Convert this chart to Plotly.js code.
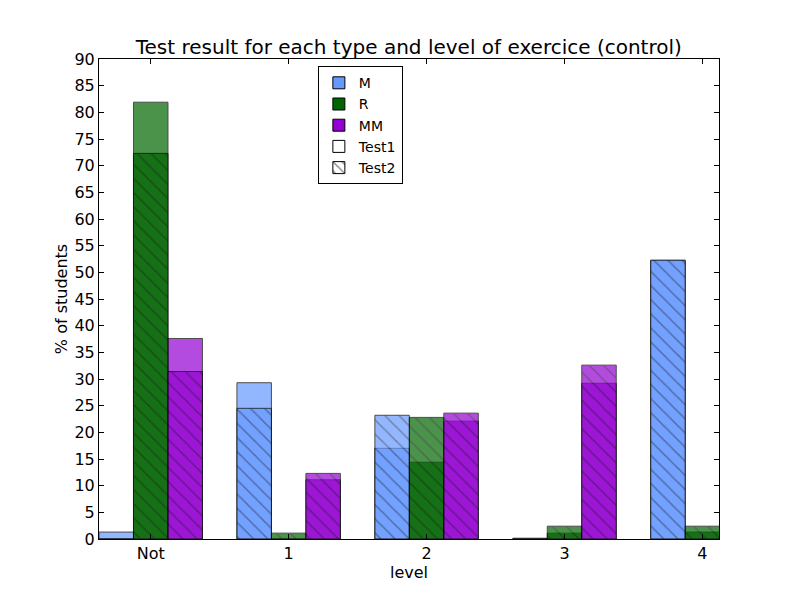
<!DOCTYPE html>
<html>
<head>
<meta charset="utf-8">
<script src="https://cdn.plot.ly/plotly-3.0.1.min.js"></script>
<style>
  body { margin: 0; background: #fff; }
  #plot { width: 800px; height: 600px; }
</style>
</head>
<body>
<div id="plot"></div>
<script>
// levels on the x axis
var levels = ["Not", "1", "2", "3", "4"];
var xpos = [0, 1, 2, 3, 4];

// % of students, Test1 (plain) and Test2 (hatched)
var mTest1  = [1.3, 29.3, 17.0, 0.15, 52.2];
var mTest2  = [0, 24.5, 23.2, 0, 52.3];
var rTest1  = [81.9, 0, 14.4, 1.1, 1.3];
var rTest2  = [72.3, 1.1, 22.8, 2.4, 2.4];
var mmTest1 = [37.6, 11.1, 22.1, 29.2, 0];
var mmTest2 = [31.4, 12.3, 23.6, 32.6, 0];

var colM = "#6699ff";
var colR = "#006400";
var colMM = "#9400d3";
var barW = 0.25;

function bar(y, color, offset, hatched) {
  var marker = {color: color, line: {color: "#000", width: 1}};
  if (hatched) {
    marker.pattern = {shape: "\\", fgcolor: "#000", size: 10, solidity: 0.15, fillmode: "overlay"};
  }
  return {
    x: xpos, y: y, type: "bar", width: barW, offset: offset,
    opacity: 0.7, marker: marker, showlegend: false, hoverinfo: "y"
  };
}

function legendItem(name, color, hatched) {
  var marker = {color: color, line: {color: "#000", width: 1}};
  if (hatched) {
    marker.pattern = {shape: "\\", fgcolor: "#000", size: 8, solidity: 0.2, fillmode: "overlay"};
  }
  return {x: [null], y: [null], type: "bar", name: name, marker: marker};
}

var data = [
  bar(mTest1, colM, -0.375, false),
  bar(rTest1, colR, -0.125, false),
  bar(mmTest1, colMM, 0.125, false),
  bar(mTest2, colM, -0.375, true),
  bar(rTest2, colR, -0.125, true),
  bar(mmTest2, colMM, 0.125, true),
  legendItem("M", colM, false),
  legendItem("R", colR, false),
  legendItem("MM", colMM, false),
  legendItem("Test1", "#fff", false),
  legendItem("Test2", "#fff", true)
];

var layout = {
  width: 800, height: 600,
  margin: {l: 99, r: 81, t: 59, b: 61},
  paper_bgcolor: "#fff", plot_bgcolor: "#fff",
  font: {family: "DejaVu Sans", size: 16, color: "#000"},
  barmode: "overlay",
  title: {
    text: "Test result for each type and level of exercice (control)",
    font: {size: 20, color: "#000"},
    x: 0.511, xanchor: "center", y: 0.922, yanchor: "middle"
  },
  xaxis: {
    range: [-0.375, 4.12],
    tickvals: xpos, ticktext: levels,
    ticks: "inside", ticklen: 5, tickcolor: "#000",
    showline: true, linecolor: "#000", linewidth: 1, mirror: "ticks",
    showgrid: false, zeroline: false,
    title: {text: "level", font: {size: 16}, standoff: 2}
  },
  yaxis: {
    range: [0, 90], dtick: 5,
    ticks: "inside", ticklen: 5, tickcolor: "#000",
    showline: true, linecolor: "#000", linewidth: 1, mirror: "ticks",
    showgrid: false, zeroline: false,
    title: {text: "% of students", font: {size: 16}, standoff: 2}
  },
  showlegend: true,
  legend: {
    x: 0.353, y: 0.985, xanchor: "left", yanchor: "top",
    bordercolor: "#000", borderwidth: 1, bgcolor: "#fff",
    font: {size: 14}, tracegroupgap: 0, itemwidth: 30
  }
};

Plotly.newPlot("plot", data, layout, {displayModeBar: false});
</script>
</body>
</html>
